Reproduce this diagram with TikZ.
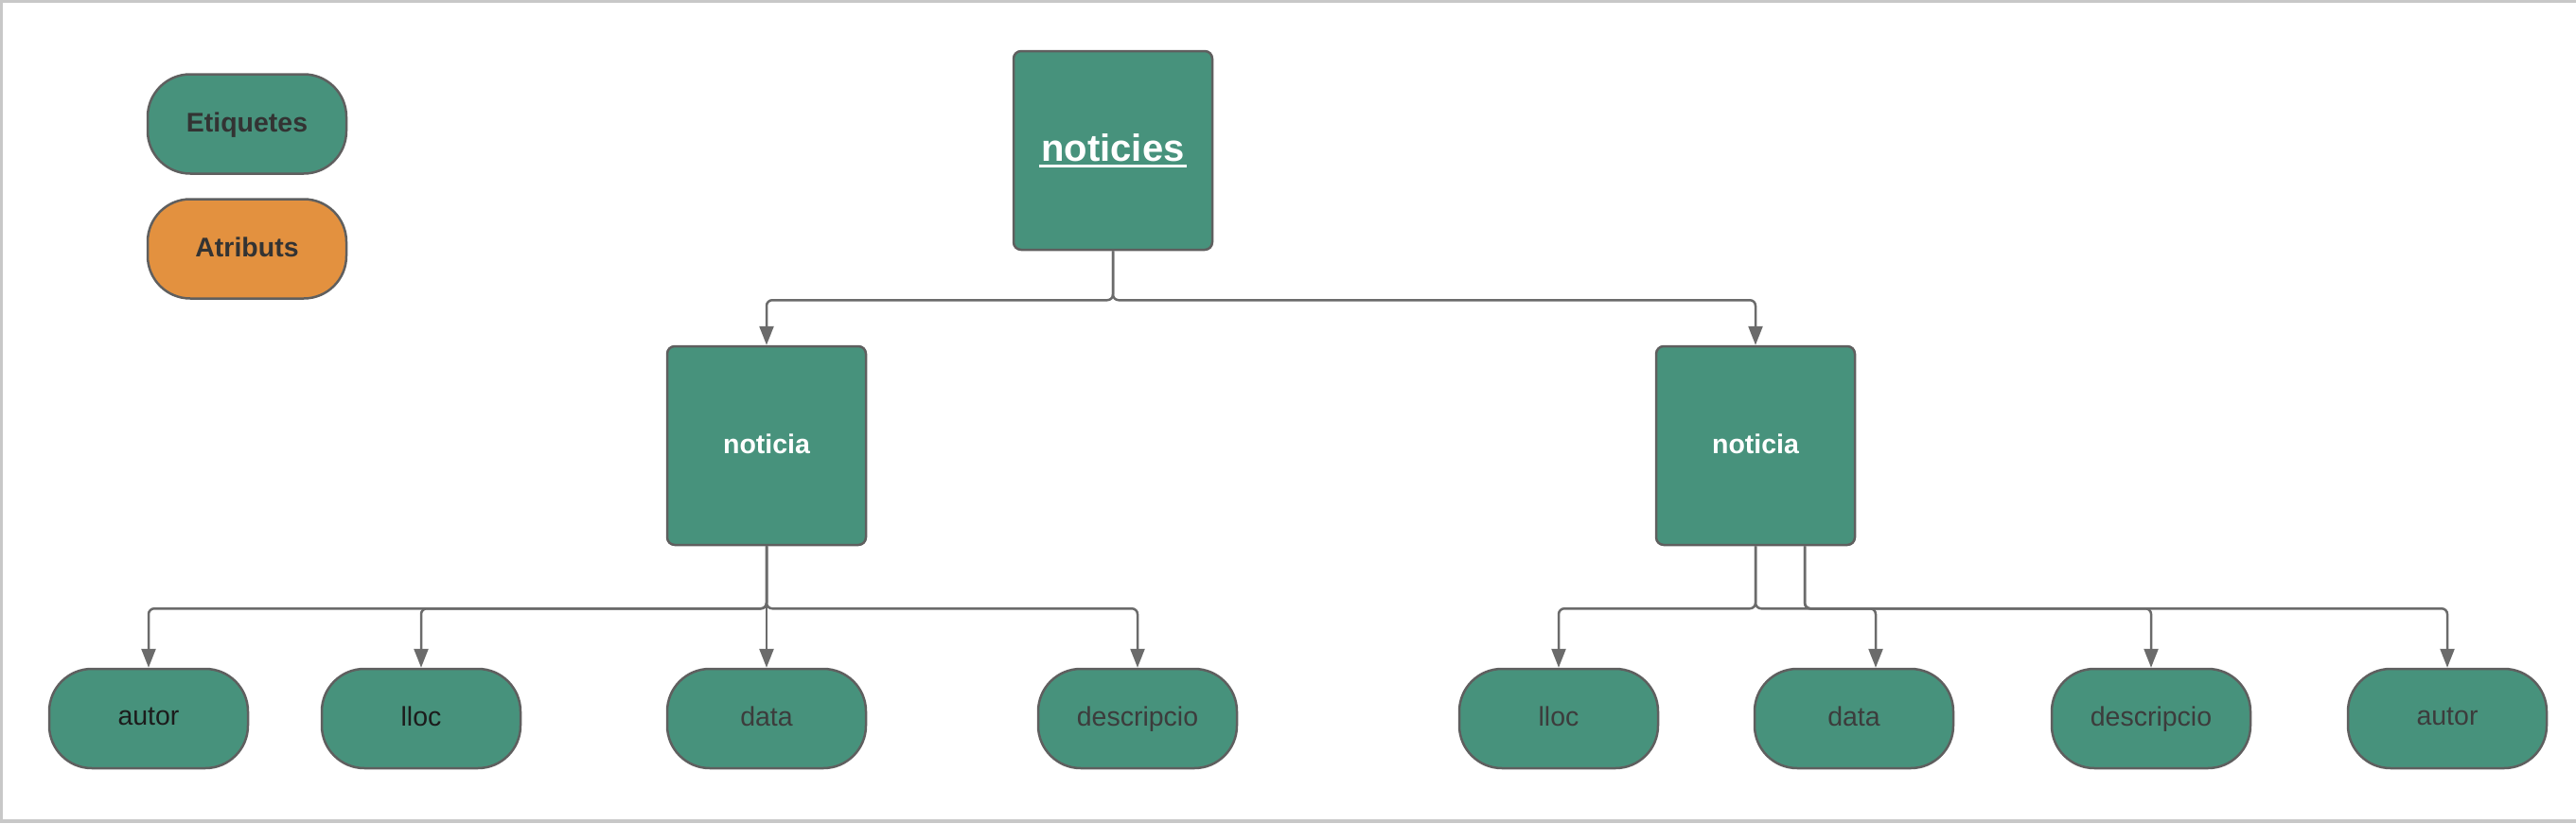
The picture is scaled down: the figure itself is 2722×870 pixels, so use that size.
\documentclass[tikz,border=0pt]{standalone}
\usepackage{fontspec}
\setmainfont{Liberation Sans}
\usetikzlibrary{arrows.meta}
\definecolor{grn}{HTML}{47927C}
\definecolor{org}{HTML}{E3913F}
\definecolor{edge}{HTML}{5F5F5F}
\definecolor{wire}{HTML}{6B6B6B}
\definecolor{frame}{HTML}{C8C8C8}
\definecolor{txtd}{HTML}{333333}
\definecolor{txtb}{HTML}{1C1C1C}
\definecolor{txtg}{HTML}{3C3C3C}
\newcommand\thickul[1]{\vtop{\hbox{\kern2pt#1\kern2pt}\kern3pt\hrule height 3pt}}
\tikzset{
  pill/.style={draw=edge, line width=2.5pt, fill=grn, rounded corners=45pt,
    minimum width=210pt, minimum height=105pt, inner sep=0pt, anchor=center,
    text depth=4pt, font=\fontsize{28.5}{34}\selectfont},
  sqbox/.style={draw=edge, line width=2.5pt, fill=grn, rounded corners=8pt,
    minimum width=210pt, minimum height=210pt, inner sep=0pt, anchor=center,
    text=white},
  conn/.style={draw=wire, line width=2.5pt, rounded corners=6pt,
    -{Triangle[length=20pt,width=15pt]}}
}
\begin{document}
\begin{tikzpicture}[x=1pt,y=-1pt]
\useasboundingbox (0,0) rectangle (2722,870);
% frame
\fill[frame] (0,0) rectangle (2722,3);
\fill[frame] (0,0) rectangle (3,870);
\fill[frame] (0,866) rectangle (2722,870);
% legend
\node[pill, text=txtd, font=\bfseries\fontsize{28.5}{34}\selectfont] (leg1) at (261,131) {Etiquetes};
\node[pill, fill=org, text=txtd, font=\bfseries\fontsize{28.5}{34}\selectfont] (leg2) at (261,263) {Atributs};
% main boxes
\node[sqbox, font=\bfseries\fontsize{40}{48}\selectfont] (top) at (1176,159) {\thickul{noticies}};
\node[sqbox, text depth=4pt, font=\bfseries\fontsize{28.5}{34}\selectfont] (n1) at (810,471) {noticia};
\node[sqbox, text depth=4pt, font=\bfseries\fontsize{28.5}{34}\selectfont] (n2) at (1855,471) {noticia};
% bottom row
\node[pill, text=txtb] (a1) at (157,759.5) {autor};
\node[pill, text=txtb] (b1) at (445,759.5) {lloc};
\node[pill, text=txtg] (c1) at (810,759.5) {data};
\node[pill, text=txtg] (d1) at (1202,759.5) {descripcio};
\node[pill, text=txtg] (b2) at (1647,759.5) {lloc};
\node[pill, text=txtg] (c2) at (1959,759.5) {data};
\node[pill, text=txtg] (d2) at (2273,759.5) {descripcio};
\node[pill, text=txtg] (a2) at (2586,759.5) {autor};
% connectors top
\draw[conn] (top.south) -- ++(0,52) -| (n1.north);
\draw[conn] (top.south) -- ++(0,52) -| (n2.north);
% connectors left
\draw[conn] (n1.south) -- ++(0,66) -| (a1.north);
\draw[conn] (n1.south) -- ++(0,66) -| (b1.north);
\draw[conn] (n1.south) -- (c1.north);
\draw[conn] (n1.south) -- ++(0,66) -| (d1.north);
% connectors right
\draw[conn] (n2.south) -- ++(0,66) -| (b2.north);
\draw[conn] (n2.south) -- ++(0,66) -| ([xshift=23pt]c2.north);
\draw[conn] ([xshift=52pt]n2.south) -- ++(0,66) -| (d2.north);
\draw[conn] ([xshift=52pt]n2.south) -- ++(0,66) -| (a2.north);
\end{tikzpicture}
\end{document}
